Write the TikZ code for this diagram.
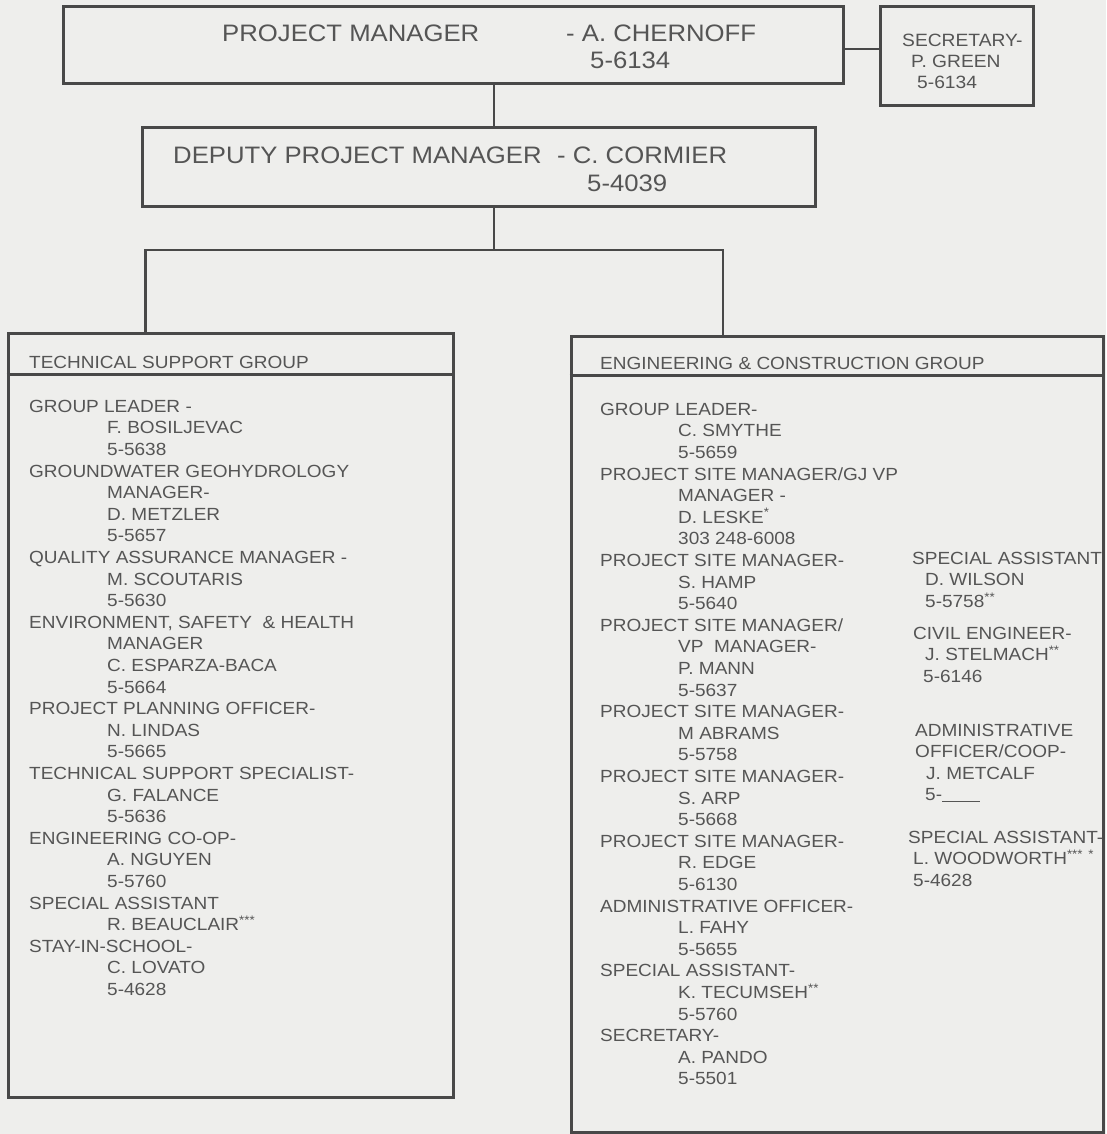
\documentclass[tikz,border=0pt]{standalone}
\usepackage{fontspec}
\setmainfont{Liberation Sans}[FakeStretch=1.08]
\definecolor{paper}{RGB}{238,238,236}
\definecolor{inkgray}{RGB}{85,85,85}
\definecolor{linegray}{RGB}{72,72,72}
\newcommand{\ind}{\hspace*{78pt}}
\newcommand{\stars}[1]{\textsuperscript{#1}}

\begin{document}
\begin{tikzpicture}[x=1pt, y=-1pt,
  box/.style={draw=linegray, line width=3pt, inner sep=0pt},
  wire/.style={draw=linegray, line width=2.4pt},
  big/.style={text=inkgray, inner sep=0pt, anchor=west, font=\fontsize{23.8}{27}\selectfont},
  txt/.style={text=inkgray, inner sep=0pt, anchor=west, font=\fontsize{17.6}{21.6}\selectfont},
  roster/.style={txt, anchor=north west, align=left}]
  % Page (scanned paper tone)
  \useasboundingbox (0,0) rectangle (1106,1134);
  \fill[paper] (0,0) rectangle (1106,1134);

  % Boxes
  \node[box, minimum width=780pt, minimum height=77pt] (pm)  at (453,45.5)  {};
  \node[box, minimum width=153pt, minimum height=99pt] (sec) at (956.5,56.5) {};
  \node[box, minimum width=673pt, minimum height=78pt] (dpm) at (478.5,167) {};
  \node[box, minimum width=445pt, minimum height=764pt] (tsg) at (230.5,715) {};
  \node[box, minimum width=532pt, minimum height=796pt] (ecg) at (837,734)  {};
  % Header rules inside the group boxes
  \draw[wire] ([yshift=-43pt]tsg.north west) -- ([yshift=-43pt]tsg.north east);
  \draw[wire] ([yshift=-41pt]ecg.north west) -- ([yshift=-41pt]ecg.north east);

  % Connectors
  \coordinate (link) at (860,49);
  \coordinate (stem) at (494,250);
  \coordinate (lft)  at (145.5,250);
  \coordinate (rgt)  at (723,250);
  \draw[wire] (pm.east |- link) -- (sec.west |- link);
  \draw[wire] (pm.south -| stem) -- (dpm.north -| stem);
  \draw[wire] (dpm.south -| stem) -- (stem);
  \draw[wire] (tsg.north -| lft) -- (lft) -- (rgt) -- (ecg.north -| rgt);

  % Project manager
  \node[big] (pmtitle) at (222,33) {PROJECT MANAGER};
  \node[big] (pmname)  at (566,33) {- A. CHERNOFF};
  \node[big] (pmtel)   at (590,60) {5-6134};
  % Secretary
  \node[roster, font=\fontsize{17.8}{21}\selectfont] (sectext) at (902,33.5)
    {SECRETARY-\\\hspace*{9pt}P. GREEN\\\hspace*{15pt}5-6134};
  % Deputy
  \node[big] (dpmtitle) at (173,155) {DEPUTY PROJECT MANAGER};
  \node[big] (dpmname)  at (557,155) {- C. CORMIER};
  \node[big] (dpmtel)   at (587,183) {5-4039};

  % Technical support group
  \node[txt] (tsghead) at (29,362) {TECHNICAL SUPPORT GROUP};
  \node[roster] (tsglist) at (29,399.7) {%
    GROUP LEADER -\\ \ind F. BOSILJEVAC\\ \ind 5-5638\\
    GROUNDWATER GEOHYDROLOGY\\ \ind MANAGER-\\ \ind D. METZLER\\ \ind 5-5657\\
    QUALITY ASSURANCE MANAGER -\\ \ind M. SCOUTARIS\\ \ind 5-5630\\
    ENVIRONMENT, SAFETY\ \ \& HEALTH\\ \ind MANAGER\\ \ind C. ESPARZA-BACA\\ \ind 5-5664\\
    PROJECT PLANNING OFFICER-\\ \ind N. LINDAS\\ \ind 5-5665\\
    TECHNICAL SUPPORT SPECIALIST-\\ \ind G. FALANCE\\ \ind 5-5636\\
    ENGINEERING CO-OP-\\ \ind A. NGUYEN\\ \ind 5-5760\\
    SPECIAL ASSISTANT\\ \ind R. BEAUCLAIR\stars{***}\\
    STAY-IN-SCHOOL-\\ \ind C. LOVATO\\ \ind 5-4628};

  % Engineering & construction group
  \node[txt] (ecghead) at (600,363) {ENGINEERING \& CONSTRUCTION GROUP};
  \node[roster] (ecglist) at (600,402.7) {%
    GROUP LEADER-\\ \ind C. SMYTHE\\ \ind 5-5659\\
    PROJECT SITE MANAGER/GJ VP\\ \ind MANAGER -\\ \ind D. LESKE\stars{*}\\ \ind 303 248-6008\\
    PROJECT SITE MANAGER-\\ \ind S. HAMP\\ \ind 5-5640\\
    PROJECT SITE MANAGER/\\ \ind VP\ \ MANAGER-\\ \ind P. MANN\\ \ind 5-5637\\
    PROJECT SITE MANAGER-\\ \ind M ABRAMS\\ \ind 5-5758\\
    PROJECT SITE MANAGER-\\ \ind S. ARP\\ \ind 5-5668\\
    PROJECT SITE MANAGER-\\ \ind R. EDGE\\ \ind 5-6130\\
    ADMINISTRATIVE OFFICER-\\ \ind L. FAHY\\ \ind 5-5655\\
    SPECIAL ASSISTANT-\\ \ind K. TECUMSEH\stars{**}\\ \ind 5-5760\\
    SECRETARY-\\ \ind A. PANDO\\ \ind 5-5501};
  % Side column of the engineering group
  \node[roster] (wilson) at (912,551.7)
    {SPECIAL ASSISTANT\\\hspace*{13pt}D. WILSON\\\hspace*{13pt}5-5758\stars{**}};
  \node[roster] (stelmach) at (913,626.7)
    {CIVIL ENGINEER-\\\hspace*{12pt}J. STELMACH\stars{**}\\\hspace*{10pt}5-6146};
  \node[roster] (metcalf) at (915,723.7)
    {ADMINISTRATIVE\\OFFICER/COOP-\\\hspace*{11pt}J. METCALF\\\hspace*{10pt}5-\rule[-1pt]{38pt}{0.8pt}};
  \node[roster] (woodworth) at (908,830.7)
    {SPECIAL ASSISTANT-\\\hspace*{5pt}L. WOODWORTH\stars{***} \stars{*}\\\hspace*{5pt}5-4628};
\end{tikzpicture}
\end{document}
